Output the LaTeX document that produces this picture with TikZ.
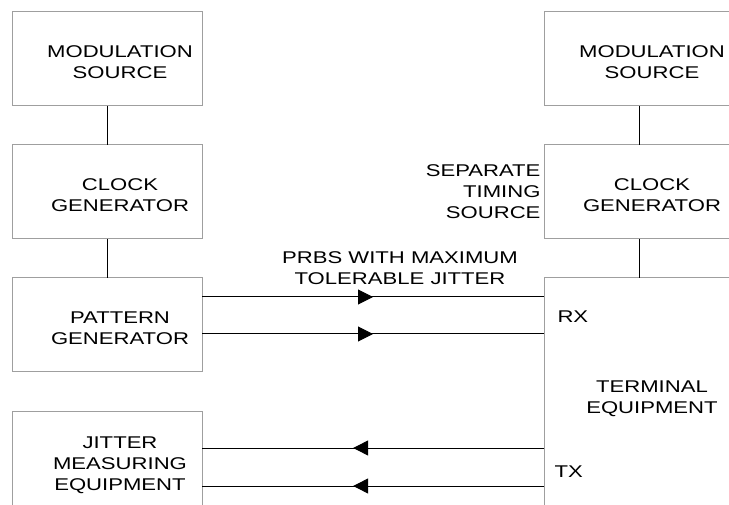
\documentclass[tikz,border=0pt]{standalone}
\usepackage{fontspec}
\setmainfont{Liberation Sans}[FakeStretch=1.3]
\usetikzlibrary{arrows.meta, positioning, calc, decorations.markings}
\newcommand{\boxlines}[1]{\hspace*{26pt}\begin{tabular}{@{}c@{}}\rule{0pt}{25pt}#1\end{tabular}}

\begin{document}
\begin{tikzpicture}[x=1pt, y=-1pt, node distance=39pt,
		font=\fontsize{17}{21}\selectfont,
		box/.style={draw=gray!75, line width=1pt, outer sep=0pt, minimum width=190pt, minimum height=94pt},
		link/.style={line width=1pt},
		fwd/.style={link, postaction={decorate}, decoration={markings, mark=at position 0.5 with {\arrow{Triangle[length=15pt,width=15pt]}}}},
		bwd/.style={link, postaction={decorate}, decoration={markings, mark=at position 0.558 with {\arrow{Triangle[length=15pt,width=15pt]}}}}]
		\useasboundingbox (0,0) rectangle (729,505);
		\clip (0,0) rectangle (729,505);
		
		\node[box] (modL) at (107,59) {\boxlines{MODULATION\\SOURCE}};
		\node[box] (clkL) [below=of modL] {\boxlines{CLOCK\\GENERATOR}};
		\node[box] (patL) [below=of clkL] {\boxlines{PATTERN\\GENERATOR}};
		\node[box, minimum height=98pt] (jitL) [below=of patL] {\boxlines{JITTER\\MEASURING\\EQUIPMENT}};
		
		\node[box] (modR) [right=342pt of modL] {\boxlines{MODULATION\\SOURCE}};
		\node[box] (clkR) [below=of modR] {\boxlines{CLOCK\\GENERATOR}};
		\node[box, minimum height=232pt] (term) [below=of clkR] {\boxlines{TERMINAL\\EQUIPMENT}};
		
		\node (sep) [left=0pt of clkR, align=right] {SEPARATE\\TIMING\\SOURCE};
		\node (prbs) [align=center] at (400,268) {PRBS WITH MAXIMUM\\TOLERABLE JITTER};
		\node (rx) [anchor=west] at (554,317) {RX};
		\node (tx) [anchor=west] at (551,472) {TX};
		
		\coordinate (rxa) at ($(patL.north east)+(0,19)$);
		\coordinate (rxb) at ($(patL.north east)+(0,56)$);
		\coordinate (txa) at ($(jitL.north east)+(0,37)$);
		\coordinate (txb) at ($(jitL.north east)+(0,75)$);
		
		\draw[link] (modL) -- (clkL);
		\draw[link] (clkL) -- (patL);
		\draw[link] (modR) -- (clkR);
		\draw[link] (clkR) -- (term);
		
		\draw[fwd] (rxa) -- (rxa -| term.west);
		\draw[fwd] (rxb) -- (rxb -| term.west);
		\draw[bwd] (txa -| term.west) -- (txa);
		\draw[bwd] (txb -| term.west) -- (txb);
	\end{tikzpicture}
\end{document}
